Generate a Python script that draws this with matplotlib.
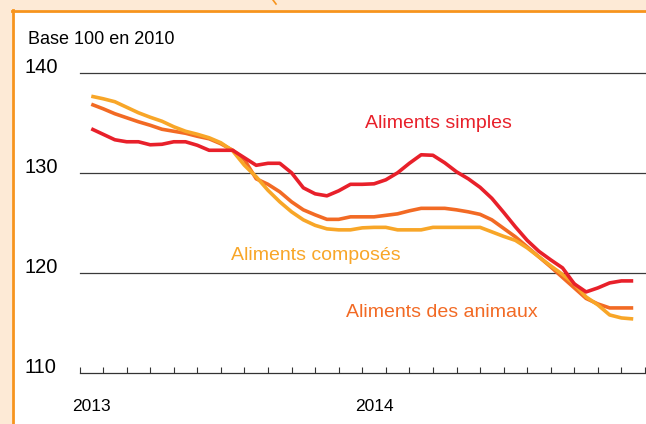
#!/usr/bin/env python3
"""Indices des prix des aliments pour animaux, 2013-2014 (base 100 en 2010)."""
import numpy as np
import matplotlib

matplotlib.use("Agg")
import matplotlib.pyplot as plt
from matplotlib.patches import Rectangle
from matplotlib.lines import Line2D
from matplotlib.transforms import blended_transform_factory

W, H = 646, 424

# semi-monthly points, Jan 2013 -> Dec 2014 (month index, 0 = mid Jan 2013)
t = np.arange(47) * 0.5

simples = [134.4, 133.85, 133.3, 133.1, 133.1, 132.8, 132.85, 133.1, 133.1, 132.75,
           132.25, 132.25, 132.25, 131.5, 130.75, 130.95, 130.95, 130.0, 128.5, 127.9,
           127.7, 128.2, 128.85, 128.85, 128.9, 129.3, 130.0, 130.95, 131.8, 131.75,
           131.0, 130.1, 129.4, 128.55, 127.45, 126.05, 124.6, 123.25, 122.15, 121.3,
           120.5, 118.9, 118.1, 118.5, 119.0, 119.2, 119.2]
animaux = [136.85, 136.4, 135.9, 135.5, 135.1, 134.75, 134.35, 134.15, 133.95, 133.65,
           133.4, 132.9, 132.25, 131.3, 129.4, 128.85, 128.1, 127.1, 126.3, 125.8,
           125.35, 125.35, 125.6, 125.6, 125.6, 125.75, 125.9, 126.2, 126.45, 126.45,
           126.45, 126.3, 126.1, 125.85, 125.3, 124.45, 123.6, 122.6, 121.6, 120.6,
           119.55, 118.5, 117.45, 116.9, 116.5, 116.5, 116.5]
composes = [137.65, 137.4, 137.1, 136.55, 136.0, 135.55, 135.15, 134.6, 134.15, 133.85,
            133.5, 133.0, 132.2, 130.75, 129.6, 128.25, 127.1, 126.1, 125.3, 124.75,
            124.4, 124.3, 124.3, 124.5, 124.55, 124.55, 124.3, 124.3, 124.3, 124.55,
            124.55, 124.55, 124.55, 124.55, 124.1, 123.65, 123.25, 122.5, 121.6, 120.7,
            119.85, 118.9, 117.6, 116.8, 115.8, 115.5, 115.4]

y_ticks = [110, 120, 130, 140]
year_pos = [0, 12]
year_labels = ["2013", "2014"]

RED = "#E8202A"
ORANGE = "#F26A24"
YELLOW = "#F8A628"
CREAM = "#FDEAD6"
BORDER = "#F7941D"

plt.rcParams["font.family"] = ["Liberation Sans", "DejaVu Sans"]


def px(x, y):
    return x / W, 1 - y / H


fig = plt.figure(figsize=(W / 100, H / 100), dpi=100, facecolor="white")

# frame decoration: cream margin + orange border
fig.patches.append(Rectangle((0, 1 - 10 / H), 1, 10 / H, transform=fig.transFigure,
                             facecolor=CREAM, edgecolor="none", zorder=0))
fig.patches.append(Rectangle((0, 0), 12 / W, 1, transform=fig.transFigure,
                             facecolor=CREAM, edgecolor="none", zorder=0))
fig.lines.append(Line2D([12 / W, 1], [1 - 10.5 / H] * 2, transform=fig.transFigure,
                        color=BORDER, lw=2))
fig.lines.append(Line2D([12.5 / W] * 2, [0, 1 - 10 / H], transform=fig.transFigure,
                        color=BORDER, lw=2))
fig.lines.append(Line2D([273 / W, 276 / W], [1, 1 - 4 / H], transform=fig.transFigure,
                        color=BORDER, lw=1.2))

left, right = 79.5 / W, 645 / W
bottom, top = 1 - 373 / H, 1 - 72.7 / H
ax = fig.add_axes([left, bottom, right - left, top - bottom])
ax.set_xlim(-0.5, 23.5)
ax.set_ylim(110, 140)
ax.patch.set_alpha(0)
for s in ("top", "right", "left"):
    ax.spines[s].set_visible(False)
ax.spines["bottom"].set_color("#333333")
ax.spines["bottom"].set_linewidth(0.9)

for v in y_ticks[1:]:
    ax.axhline(v, xmin=0, xmax=1.01, color="#3a3a3a", lw=0.9, clip_on=False, zorder=1)

kw = dict(lw=2.6, clip_on=False, solid_joinstyle="round", solid_capstyle="butt")
ax.plot(t, animaux, color=ORANGE, zorder=3, **kw)
ax.plot(t, composes, color=YELLOW, zorder=4, **kw)
ax.plot(t, simples, color=RED, zorder=5, **kw)

# month ticks
ax.set_xticks(np.arange(-0.5, 24, 1), minor=True)
ax.tick_params(axis="x", which="minor", direction="in", length=4.5, width=0.8,
               color="#333333")
ax.set_xticks(year_pos)
ax.set_xticklabels(year_labels, fontsize=12.5)
ax.tick_params(axis="x", which="major", length=0, pad=19)
ax.set_yticks([])

ylab = blended_transform_factory(fig.transFigure, ax.transData)
for v in y_ticks:
    ax.text(24 / W, v, str(v), transform=ylab, fontsize=14.5, ha="left", va="baseline")

fig.text(*px(28, 44), "Base 100 en 2010", fontsize=13, ha="left", va="baseline")
fig.text(*px(365, 128), "Aliments simples", fontsize=14, color=RED,
         ha="left", va="baseline")
fig.text(*px(231, 260), "Aliments composés", fontsize=14, color=YELLOW,
         ha="left", va="baseline")
fig.text(*px(346, 317), "Aliments des animaux", fontsize=14, color=ORANGE,
         ha="left", va="baseline")

fig.savefig("out.png", dpi=100, facecolor="white")
